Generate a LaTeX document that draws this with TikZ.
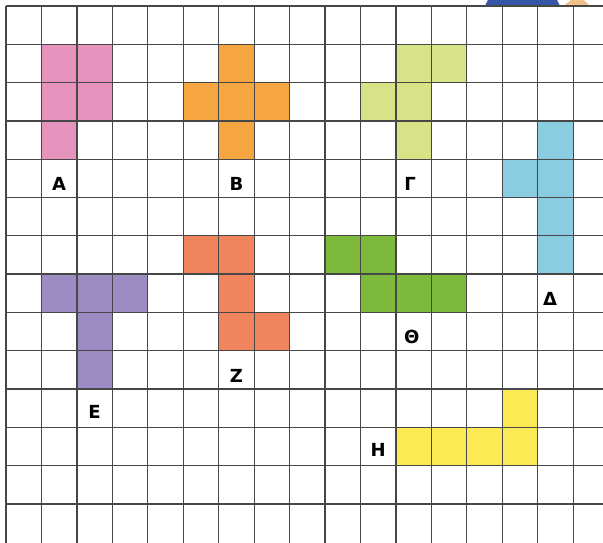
\documentclass[tikz,border=0pt]{standalone}
\usepackage{fontspec}
\setmainfont{DejaVu Sans}
\definecolor{pinkA}{HTML}{E693BE}
\definecolor{orangeB}{HTML}{F5A640}
\definecolor{limeG}{HTML}{D8E388}
\definecolor{blueD}{HTML}{8ACCE0}
\definecolor{purpleE}{HTML}{9D8BC3}
\definecolor{redZ}{HTML}{F0845C}
\definecolor{greenT}{HTML}{7DB93B}
\definecolor{yellowH}{HTML}{FCEA55}
\definecolor{capblue}{HTML}{3656A8}
\definecolor{skin}{HTML}{F0C08A}
\begin{document}
\begin{tikzpicture}[
    x=35.45pt, y=-38.3pt,
    gridline/.style={draw=black!72, line width=1.25pt},
    piece/.style={fill=#1},
    shapelabel/.style={font=\bfseries\fontsize{18}{18}\selectfont, inner sep=0pt}
  ]
  \useasboundingbox (-0.1693,-0.1567) rectangle (16.841,14.021);
  \clip (-0.1693,-0.1567) rectangle (16.841,14.021);
  % cropped figure at the top
  \fill[capblue] (13.51,0) -- (13.62,-0.2) -- (15.52,-0.2) -- (15.63,0) -- cycle;
  \fill[skin] (15.72,0) -- (16.0,-0.2) -- (16.25,-0.2) -- (16.47,0) -- cycle;
  % pieces
  \foreach \c/\r in {1/1,2/1,1/2,2/2,1/3}
    \fill[piece=pinkA] (\c,\r) rectangle ++(1,1);
  \foreach \c/\r in {6/1,5/2,6/2,7/2,6/3}
    \fill[piece=orangeB] (\c,\r) rectangle ++(1,1);
  \foreach \c/\r in {11/1,12/1,10/2,11/2,11/3}
    \fill[piece=limeG] (\c,\r) rectangle ++(1,1);
  \foreach \c/\r in {15/3,14/4,15/4,15/5,15/6}
    \fill[piece=blueD] (\c,\r) rectangle ++(1,1);
  \foreach \c/\r in {1/7,2/7,3/7,2/8,2/9}
    \fill[piece=purpleE] (\c,\r) rectangle ++(1,1);
  \foreach \c/\r in {5/6,6/6,6/7,6/8,7/8}
    \fill[piece=redZ] (\c,\r) rectangle ++(1,1);
  \foreach \c/\r in {9/6,10/6,10/7,11/7,12/7}
    \fill[piece=greenT] (\c,\r) rectangle ++(1,1);
  \foreach \c/\r in {14/10,11/11,12/11,13/11,14/11}
    \fill[piece=yellowH] (\c,\r) rectangle ++(1,1);
  % grid
  \foreach \c in {0,...,16}
    \draw[gridline] (\c,0) -- (\c,14.3);
  \foreach \r in {0,...,13}
    \draw[gridline] (0,\r) -- (17,\r);
  % labels
  \node[shapelabel] (lA) at (1.5,4.65) {Α};
  \node[shapelabel] (lB) at (6.5,4.65) {Β};
  \node[shapelabel] (lG) at (11.4,4.65) {Γ};
  \node[shapelabel] (lD) at (15.35,7.65) {Δ};
  \node[shapelabel] (lE) at (2.5,10.6) {Ε};
  \node[shapelabel] (lZ) at (6.5,9.65) {Ζ};
  \node[shapelabel] (lT) at (11.45,8.65) {Θ};
  \node[shapelabel] (lH) at (10.5,11.6) {Η};
\end{tikzpicture}
\end{document}
